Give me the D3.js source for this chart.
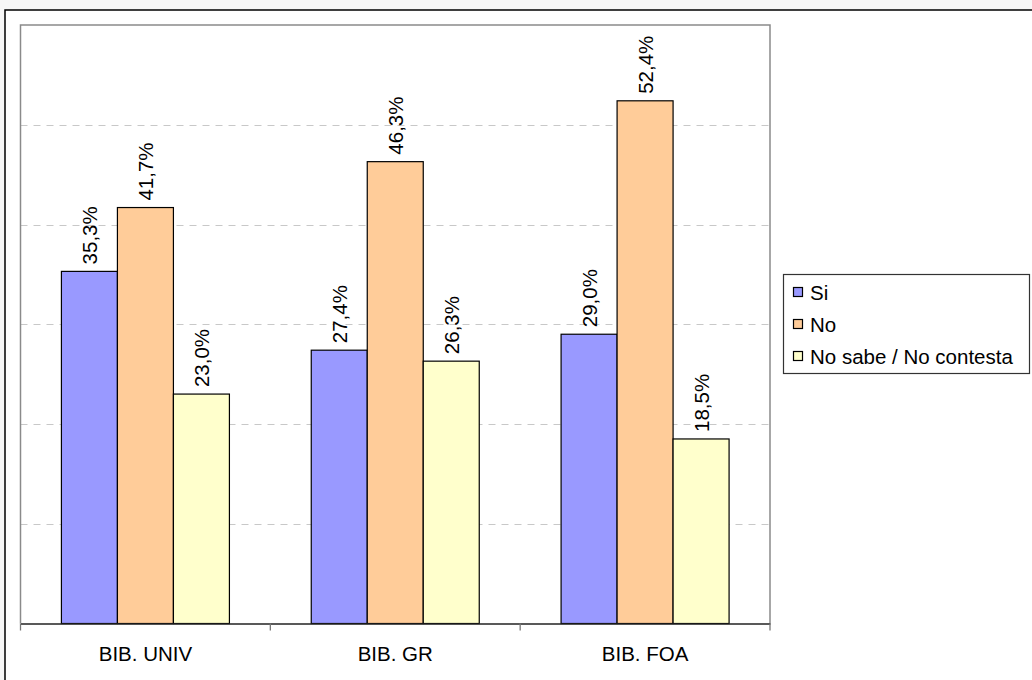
<!DOCTYPE html>
<html><head><meta charset="utf-8">
<script src="https://cdn.jsdelivr.net/npm/d3@7"></script>
<style>
html,body{margin:0;padding:0;background:#f7f7f7;}
svg{display:block;}
text{font-family:"Liberation Sans",Arial,sans-serif;fill:#000;}
</style></head><body>
<svg id="chart" width="1032" height="680"></svg>
<script>
const categories = ["BIB. UNIV", "BIB. GR", "BIB. FOA"];
const seriesNames = ["Si", "No", "No sabe / No contesta"];
const si = [35.3, 27.4, 29.0];
const no = [41.7, 46.3, 52.4];
const nsnc = [23.0, 26.3, 18.5];
const gridTicks = [10, 20, 30, 40, 50];
const colors = ["#9999FF", "#FFCC99", "#FFFFCC"];

const series = [si, no, nsnc];
const fmt = v => v.toFixed(1).replace(".", ",") + "%";
const FS = 20.5;

const svg = d3.select("#chart");
// chart frame
svg.append("rect").attr("x", 5).attr("y", 10).attr("width", 1040).attr("height", 690)
  .attr("fill", "#fff").attr("stroke", "#000").attr("stroke-width", 1.5);

const L = 20.5, R = 770, T = 25, B = 623.5;
const x = d3.scaleBand().domain(categories).range([L, R]).paddingInner(0).paddingOuter(0);
const y = d3.scaleLinear().domain([0, 60]).range([B, T]);
const barW = 56;
const inner = d3.scaleBand().domain(d3.range(series.length)).range([0, barW * 3]);
const groupOffset = (x.bandwidth() - barW * 3) / 2;

// grid
svg.append("g").selectAll("line").data(gridTicks).join("line")
  .attr("x1", L).attr("x2", R).attr("y1", d => Math.round(y(d)) + 0.5).attr("y2", d => Math.round(y(d)) + 0.5)
  .attr("stroke", "#c8c8c8").attr("stroke-width", 1).attr("stroke-dasharray", "7,6");

// plot border (left, top, right)
svg.append("path").attr("d", `M${L},${B} V${T} H${R} V${B}`)
  .attr("fill", "none").attr("stroke", "#8a8a8a").attr("stroke-width", 1.5);

// bars
const g = svg.append("g");
categories.forEach((c, ci) => {
  series.forEach((s, si_) => {
    const bx = x(c) + groupOffset + inner(si_);
    g.append("rect").attr("x", bx).attr("y", y(s[ci])).attr("width", inner.bandwidth())
      .attr("height", B - y(s[ci])).attr("fill", colors[si_]).attr("stroke", "#000").attr("stroke-width", 1.2);
    const cx = bx + inner.bandwidth() / 2;
    const ty = y(s[ci]) - 7;
    g.append("text").attr("transform", `translate(${cx + 7.5},${ty}) rotate(-90)`)
      .attr("font-size", FS).attr("text-anchor", "start").text(fmt(s[ci]));
  });
});

// x axis
const xAxis = d3.axisBottom(x).tickSize(0).tickFormat(d => d);
const ax = svg.append("g").attr("transform", `translate(0,${B})`).call(xAxis);
ax.select(".domain").attr("stroke", "#222").attr("stroke-width", 1.3);
ax.selectAll(".tick text").attr("font-size", FS).attr("font-family", "Liberation Sans, Arial, sans-serif")
  .attr("dy", "0").attr("y", 37).attr("fill", "#000");
// boundary ticks
const bounds = [L].concat(categories.map(c => x(c) + x.bandwidth()));
svg.append("g").selectAll("line").data(bounds).join("line")
  .attr("x1", d => d).attr("x2", d => d).attr("y1", B).attr("y2", B + 7)
  .attr("stroke", "#777").attr("stroke-width", 1.3);

// legend
const lg = svg.append("g");
lg.append("rect").attr("x", 783.5).attr("y", 274.5).attr("width", 246).attr("height", 99)
  .attr("fill", "#fff").attr("stroke", "#333").attr("stroke-width", 1.2);
seriesNames.forEach((n, i) => {
  const cy = 292 + i * 32;
  lg.append("rect").attr("x", 793.5).attr("y", cy - 4.5).attr("width", 9).attr("height", 9)
    .attr("fill", colors[i]).attr("stroke", "#000").attr("stroke-width", 1.2);
  lg.append("text").attr("x", 810).attr("y", cy + 7.5).attr("font-size", FS).text(n);
});
</script>
</body></html>
